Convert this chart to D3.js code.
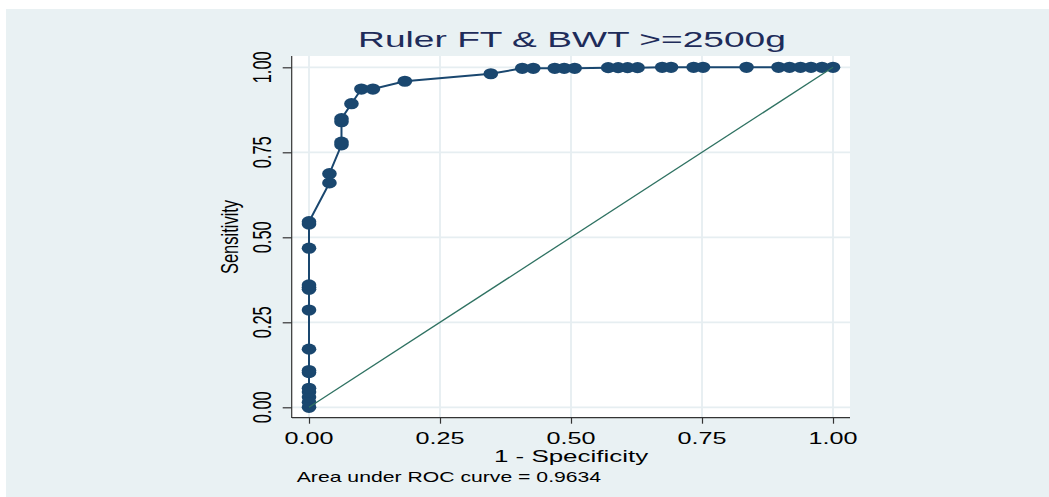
<!DOCTYPE html>
<html>
<head>
<meta charset="utf-8">
<script src="https://cdn.jsdelivr.net/npm/d3@7"></script>
<style>
  html, body { margin: 0; padding: 0; background: #ffffff; }
  svg { display: block; font-family: "Liberation Sans", Arial, sans-serif; }
</style>
</head>
<body>
<svg id="chart" width="1049" height="497"></svg>
<script>
// ---- data ----
const titleText = "Ruler FT & BWT >=2500g";
const xTitle = "1 - Specificity";
const yTitle = "Sensitivity";
const caption = "Area under ROC curve = 0.9634";
const tickValues = [0, 0.25, 0.5, 0.75, 1];
const tickLabels = ["0.00", "0.25", "0.50", "0.75", "1.00"];

// ROC points: 1 - specificity and sensitivity
const fpr = [
  0, 0, 0, 0, 0, 0, 0, 0, 0, 0, 0, 0, 0, 0, 0,
  0.039, 0.039, 0.062, 0.062, 0.062, 0.062, 0.081, 0.100, 0.122, 0.183, 0.347,
  0.407, 0.428, 0.469, 0.487, 0.507,
  0.571, 0.590, 0.608, 0.627,
  0.674, 0.691, 0.734, 0.752, 0.835,
  0.896, 0.917, 0.938, 0.958, 0.979, 1.000
];
const sens = [
  0, 0.015, 0.030, 0.045, 0.056, 0.102, 0.108, 0.171, 0.286, 0.347, 0.353, 0.360, 0.468, 0.539, 0.546,
  0.660, 0.687, 0.772, 0.780, 0.840, 0.849, 0.893, 0.936, 0.936, 0.959, 0.981,
  0.997, 0.997, 0.997, 0.997, 0.997,
  0.999, 0.999, 0.999, 0.999,
  1, 1, 1, 1, 1,
  1, 1, 1, 1, 1, 1
];
const refX = [0, 1];
const refY = [0, 1];

// ---- drawing ----
const svg = d3.select("#chart");
const W = 1049, H = 497;
const plot = { left: 292, right: 850, top: 56, bottom: 418 };

const x = d3.scaleLinear().domain([0, 1]).range([309, 833]);
const y = d3.scaleLinear().domain([0, 1]).range([407.3, 67.3]);

// graph region background
svg.append("rect").attr("x", 6).attr("y", 9).attr("width", W - 6).attr("height", H - 9)
  .attr("fill", "#e9f1f3");
// plot region
svg.append("rect").attr("x", plot.left).attr("y", plot.top)
  .attr("width", plot.right - plot.left).attr("height", plot.bottom - plot.top)
  .attr("fill", "#ffffff");

// gridlines
const grid = svg.append("g");
grid.selectAll("line.gx").data(tickValues).join("line")
  .attr("x1", d => x(d)).attr("x2", d => x(d))
  .attr("y1", plot.top).attr("y2", plot.bottom)
  .attr("stroke", "#e6eef1").attr("stroke-width", 1.8);
grid.selectAll("line.gy").data(tickValues).join("line")
  .attr("y1", d => y(d)).attr("y2", d => y(d))
  .attr("x1", plot.left).attr("x2", plot.right)
  .attr("stroke", "#e6eef1").attr("stroke-width", 1.8);

// axes
const xAxis = d3.axisBottom(x).tickValues(tickValues).tickFormat("").tickSize(6).tickSizeOuter(0);
const gx = svg.append("g").attr("transform", `translate(0,${plot.bottom - 0.3})`).call(xAxis);
gx.select(".domain").attr("d", `M${plot.left},0H${plot.right}`).attr("stroke", "#333").attr("stroke-width", 1.2);
gx.selectAll(".tick line").attr("stroke", "#333").attr("stroke-width", 1.2);

const yAxis = d3.axisLeft(y).tickValues(tickValues).tickFormat("").tickSize(9).tickSizeOuter(0);
const gy = svg.append("g").attr("transform", `translate(${plot.left - 0.3},0)`).call(yAxis);
gy.select(".domain").attr("d", `M0,${plot.top}V${plot.bottom}`).attr("stroke", "#333").attr("stroke-width", 1.2);
gy.selectAll(".tick line").attr("stroke", "#333").attr("stroke-width", 1.2);

// helper: horizontally stretched text fitted to a target width
function fitText(txt, cx, by, size, targetW, anchor, color) {
  const t = svg.append("text").text(txt)
    .attr("font-size", size).attr("text-anchor", anchor).attr("fill", color)
    .attr("x", 0).attr("y", 0);
  const w = t.node().getBBox().width;
  const sx = targetW / w;
  t.attr("transform", `translate(${cx},${by}) scale(${sx},1)`);
  return t;
}

// x tick labels
tickValues.forEach((v, i) => {
  fitText(tickLabels[i], x(v), 444, 16.3, 49, "middle", "#000");
});
// y tick labels (rotated)
tickValues.forEach((v, i) => {
  svg.append("text").text(tickLabels[i])
    .attr("font-size", 16.5).attr("text-anchor", "middle").attr("fill", "#000")
    .attr("transform", `translate(${270.5},${y(v)}) scale(1.6,1) rotate(-90)`);
});

// axis titles
fitText(xTitle, 571, 461.7, 16.8, 155, "middle", "#000");
svg.append("text").text(yTitle)
  .attr("font-size", 16.5).attr("text-anchor", "middle").attr("fill", "#000")
  .attr("transform", `translate(${237.5},${237}) scale(1.4,1) rotate(-90)`);

// title
fitText(titleText, 572, 47, 21.5, 428, "middle", "#1e2c5a");

// caption
fitText(caption, 296.7, 481.7, 14, 305, "start", "#000");

// ROC curve
const pts = fpr.map((f, i) => [f, sens[i]]);
const line = d3.line().x(d => x(d[0])).y(d => y(d[1]));
svg.append("path").datum(pts).attr("d", line)
  .attr("fill", "none").attr("stroke", "#1a476f").attr("stroke-width", 2);
svg.append("g").selectAll("ellipse").data(pts).join("ellipse")
  .attr("cx", d => x(d[0])).attr("cy", d => y(d[1]))
  .attr("rx", 7.3).attr("ry", 5.6)
  .attr("fill", "#1a476f");

// reference line
svg.append("path").datum(refX.map((v, i) => [v, refY[i]])).attr("d", line)
  .attr("fill", "none").attr("stroke", "#2f7262").attr("stroke-width", 1.3);
</script>
</body>
</html>
